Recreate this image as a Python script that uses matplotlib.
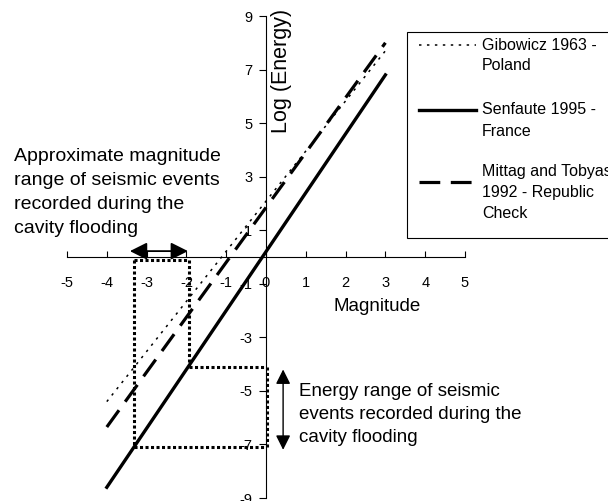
import matplotlib
matplotlib.use("Agg")
import matplotlib.pyplot as plt
from matplotlib.lines import Line2D
from matplotlib.patches import Rectangle

plt.rcParams['font.family'] = ['Liberation Sans', 'DejaVu Sans']
plt.rcParams['axes.unicode_minus'] = False

# relationships (end points of each line)
magnitude = [-4, 3]
gibowicz = [-5.4, 7.7]
senfaute = [-8.6, 6.8]
mittag = [-6.35, 8.0]

labels = ['Gibowicz 1963 -\nPoland', 'Senfaute 1995 -\nFrance',
          'Mittag and Tobyas\n1992 - Republic\nCheck']

# ranges recorded during the cavity flooding
mag_box = [-3.32, -1.94]
energy_box = [-7.1, -4.1]
mag_arrow = [-3.42, -1.96]
energy_arrow = [-4.2, -7.2]

x_ticks = list(range(-5, 6))
y_ticks = list(range(-9, 10, 2))

fig = plt.figure(figsize=(6.08, 5.01), dpi=100)
ax = fig.add_axes([67 / 608, 3 / 501, 398 / 608, 482 / 501])

styles = [
    dict(color='black', lw=1.1, linestyle=(0, (1.6, 3.6))),
    dict(color='black', lw=2.4, linestyle='-'),
    dict(color='black', lw=2.3, linestyle=(0, (6.5, 3.3))),
]

ax.plot(magnitude, gibowicz, **styles[0])
ax.plot(magnitude, senfaute, **styles[1])
ax.plot(magnitude, mittag, **styles[2])

# dotted boxes
box = dict(color='black', lw=2.2, linestyle=(0, (1, 0.8)))
ax.plot([mag_box[0], mag_box[0]], [-0.1, energy_box[0]], **box)
ax.plot([mag_box[1], mag_box[1]], [-0.1, energy_box[1]], **box)
ax.plot([mag_box[0], mag_box[1]], [-0.1, -0.1], **box)
ax.plot([mag_box[0], 0], [energy_box[0], energy_box[0]], **box)
ax.plot([mag_box[1], 0], [energy_box[1], energy_box[1]], **box)
ax.plot([0.02, 0.02], energy_box, **box)

# double arrows
ax.annotate('', xy=(mag_arrow[0], 0.22), xytext=(mag_arrow[1], 0.22),
            arrowprops=dict(arrowstyle='<|-|>', color='black', lw=1.3,
                            mutation_scale=26, shrinkA=0, shrinkB=0))
ax.annotate('', xy=(0.43, energy_arrow[0]), xytext=(0.43, energy_arrow[1]),
            arrowprops=dict(arrowstyle='<|-|>', color='black', lw=1.0,
                            mutation_scale=22, shrinkA=0, shrinkB=0))

ax.text(-6.33, 4.07, 'Approximate magnitude\nrange of seismic events\nrecorded during the\ncavity flooding',
        ha='left', va='top', fontsize=14, linespacing=1.55)
ax.text(0.83, -4.7, 'Energy range of seismic\nevents recorded during the\ncavity flooding',
        ha='left', va='top', fontsize=13.5, linespacing=1.45)

ax.text(2.8, -1.83, 'Magnitude', ha='center', va='center', fontsize=13.5)
ax.text(0.38, 6.96, 'Log (Energy)', ha='center', va='center', fontsize=15.5, rotation=90)

ax.set_xlim(-5, 5)
ax.set_ylim(-9, 9)
ax.set_xticks(x_ticks)
ax.set_yticks(y_ticks)
ax.spines['left'].set_position(('data', 0))
ax.spines['bottom'].set_position(('data', 0))
ax.spines['top'].set_visible(False)
ax.spines['right'].set_visible(False)
for s in ['left', 'bottom']:
    ax.spines[s].set_linewidth(0.8)
ax.tick_params(axis='x', direction='in', length=4, pad=14, labelsize=10.5, width=0.8)
ax.tick_params(axis='y', direction='out', length=5, pad=5, labelsize=10.5, width=0.8)
ax.patch.set_visible(False)

# legend box, cut by the right edge of the picture
fig.add_artist(Rectangle((407 / 608, 1 - 238 / 501), 0.5, 206 / 501,
                         transform=fig.transFigure, facecolor='white',
                         edgecolor='black', lw=0.8))
for i, y in enumerate([45, 110, 182]):
    fy = 1 - y / 501
    fig.add_artist(Line2D([419 / 608, 476 / 608], [fy, fy],
                          transform=fig.transFigure, **styles[i]))
    fig.text(482 / 608, 1 - (y + 6) / 501, labels[i], ha='left', va='center_baseline',
             fontsize=11.5, linespacing=1.5)

fig.savefig('out.png', dpi=100)
